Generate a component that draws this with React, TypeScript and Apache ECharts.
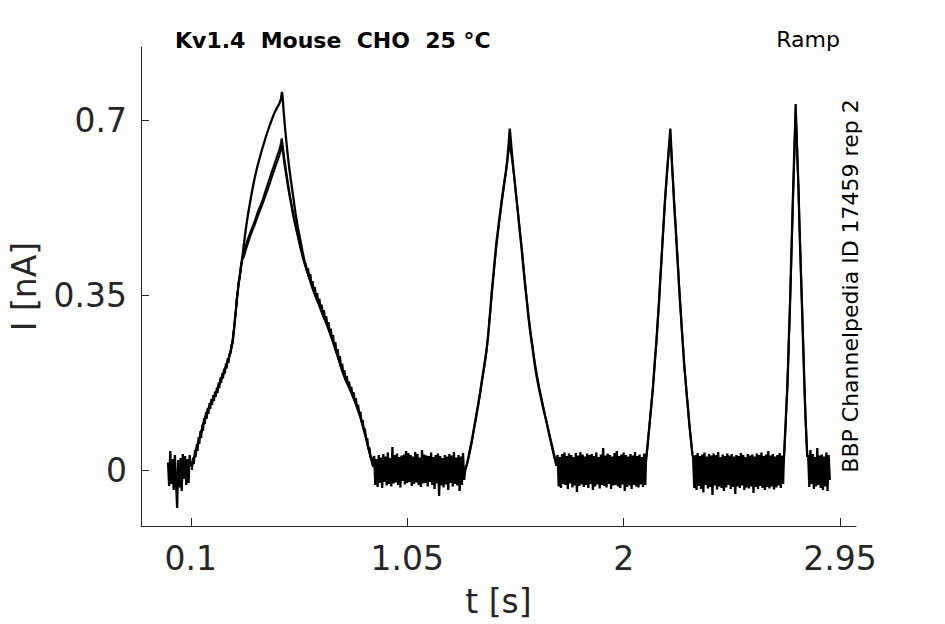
import React, { useEffect, useRef } from 'react';
import * as echarts from 'echarts';

// ---- axis ticks ----
const xTicks = [0.1, 1.05, 2, 2.95];
const yTicks = [0, 0.35, 0.7];

// ---- baseline noise samples (pA = 0.001 nA), sampled every 5 ms ----
const sampleDt = 0.005;
const base0Start = 0.0;
const base0 = [15, -32, 38, -28, 22, -40, 30, -22, -76, 20, -35, 24, -42, 32, -18, 28, -30, 22, -26, 30, 8];
const base1Start = 0.905;
const base1 = [
  28, -30, 22, -34, 30, -26, 25, -36, 32, -24,
  27, -31, 35, -28, 24, -33, 46, -27, 30, -25,
  33, -30, 26, -35, 29, -22, 31, -29, 38, -26,
  34, -24, 30, -32, 27, -28, 36, -25, 32, -30,
  25, -34, 40, -27, 31, -26, 29, -33, 28, -24,
  35, -30, 26, -38, 30, -27, 33, -52, 28, -31,
  24, -35, 30, -29, 27, -40, 32, -26, 29, -33,
  36, -28, 25, -31, 30, -42, 27, -30, 34, -20,
];
const base2Start = 1.71;
const base2 = [
  30, -33, 26, -36, 32, -28, 35, -30, 28, -38,
  33, -27, 30, -35, 26, -31, 34, -44, 29, -32,
  36, -29, 31, -34, 27, -30, 33, -36, 30, -28,
  32, -40, 28, -33, 35, -29, 26, -37, 31, -30,
  44, -32, 29, -35, 33, -28, 30, -38, 27, -31,
  34, -30, 38, -33, 28, -36, 31, -29, 35, -42,
  30, -34, 27, -31, 32, -38, 29, -30, 36, -33,
  28, -35, 31, -29, 26, -34, 33, -30,
];
const base3Start = 2.305;
const base3 = [
  26, -36, 30, -40, 34, -32, 28, -38, 31, -45,
  35, -30, 27, -37, 32, -34, 29, -50, 33, -31,
  30, -39, 36, -33, 26, -36, 31, -42, 28, -35,
  33, -30, 29, -38, 32, -34, 27, -48, 30, -33,
  28, -36, 34, -31, 30, -40, 26, -35, 32, -37,
  29, -33, 31, -46, 27, -34, 33, -38, 30, -32,
  35, -36, 28, -40, 31, -34, 38, -37, 29, -33,
  32, -39, 27, -35, 30, -31, 34, -36, 29, -28,
];
const base4Start = 2.81;
const base4 = [30, -34, 40, -28, 32, -38, 26, -33, 44, -30, 29, -36, 31, -40, 27, -33, 35, -42, 30, -20];

// ---- ramp responses [t (s), I (nA)] ----
const ramp1Rise = [
  [0.105, 0.010], [0.110, 0.018], [0.118, 0.030], [0.126, 0.044], [0.134, 0.058], [0.142, 0.070],
  [0.150, 0.083], [0.158, 0.097], [0.166, 0.108], [0.174, 0.118], [0.182, 0.128], [0.190, 0.136],
  [0.198, 0.143], [0.206, 0.150], [0.214, 0.158], [0.222, 0.168], [0.230, 0.178], [0.238, 0.187],
  [0.246, 0.196], [0.254, 0.207], [0.262, 0.218], [0.270, 0.228], [0.278, 0.244], [0.284, 0.258],
  [0.290, 0.283], [0.296, 0.310], [0.302, 0.340], [0.308, 0.365], [0.314, 0.385], [0.320, 0.405],
  [0.326, 0.425],
];
const ramp1RiseB = [
  [0.105, 0.000], [0.110, 0.025], [0.114, 0.012], [0.118, 0.040], [0.122, 0.026], [0.126, 0.052],
  [0.130, 0.038], [0.134, 0.066], [0.138, 0.052], [0.142, 0.078], [0.146, 0.064], [0.150, 0.091],
  [0.154, 0.078], [0.158, 0.104], [0.162, 0.092], [0.166, 0.116], [0.170, 0.102], [0.174, 0.124],
  [0.178, 0.112], [0.182, 0.134], [0.186, 0.122], [0.190, 0.142], [0.194, 0.130], [0.198, 0.150],
  [0.202, 0.138], [0.206, 0.157], [0.210, 0.146], [0.214, 0.165], [0.218, 0.154], [0.222, 0.175],
  [0.226, 0.164], [0.230, 0.185], [0.234, 0.174], [0.238, 0.194], [0.242, 0.183], [0.246, 0.203],
  [0.250, 0.193], [0.254, 0.213], [0.258, 0.203], [0.262, 0.224], [0.266, 0.214], [0.270, 0.234],
  [0.274, 0.232], [0.278, 0.250], [0.282, 0.252], [0.286, 0.270], [0.290, 0.282], [0.294, 0.305],
  [0.298, 0.318], [0.302, 0.345], [0.306, 0.355], [0.310, 0.378], [0.314, 0.383], [0.320, 0.408],
  [0.326, 0.420],
];
const ramp1PeakA = [
  [0.332, 0.447], [0.338, 0.470], [0.344, 0.490], [0.350, 0.508], [0.357, 0.527], [0.364, 0.545],
  [0.372, 0.565], [0.380, 0.583], [0.390, 0.603], [0.400, 0.620], [0.410, 0.637], [0.420, 0.652],
  [0.430, 0.667], [0.444, 0.686], [0.455, 0.700], [0.466, 0.713], [0.478, 0.724], [0.488, 0.732],
  [0.496, 0.742], [0.500, 0.756], [0.503, 0.748], [0.508, 0.715], [0.515, 0.678], [0.522, 0.645],
  [0.530, 0.612], [0.540, 0.577], [0.550, 0.545], [0.560, 0.512], [0.570, 0.485], [0.580, 0.462],
  [0.590, 0.438], [0.600, 0.416],
];
const ramp1PeakB = [
  [0.332, 0.432], [0.340, 0.447], [0.350, 0.462], [0.360, 0.474], [0.371, 0.487], [0.382, 0.500],
  [0.393, 0.515], [0.404, 0.527], [0.415, 0.540], [0.426, 0.556], [0.437, 0.571], [0.448, 0.586],
  [0.458, 0.600], [0.468, 0.613], [0.478, 0.627], [0.488, 0.640], [0.494, 0.650], [0.499, 0.663],
  [0.503, 0.652], [0.510, 0.625], [0.520, 0.593], [0.530, 0.563], [0.540, 0.537], [0.550, 0.512],
  [0.560, 0.490], [0.570, 0.470], [0.580, 0.450], [0.590, 0.432], [0.600, 0.414],
];
const ramp1PeakC = [
  [0.332, 0.425], [0.340, 0.438], [0.350, 0.452], [0.360, 0.466], [0.371, 0.479], [0.382, 0.492],
  [0.393, 0.506], [0.404, 0.519], [0.415, 0.532], [0.426, 0.546], [0.437, 0.560], [0.448, 0.575],
  [0.458, 0.589], [0.468, 0.602], [0.478, 0.615], [0.488, 0.628], [0.494, 0.638], [0.499, 0.650],
  [0.503, 0.640], [0.510, 0.615], [0.520, 0.586], [0.530, 0.557], [0.540, 0.532], [0.550, 0.507],
  [0.560, 0.486], [0.570, 0.466], [0.580, 0.446], [0.590, 0.428], [0.600, 0.411],
];
const ramp1FallA = [
  [0.610, 0.398], [0.620, 0.384], [0.630, 0.370], [0.640, 0.357], [0.650, 0.345], [0.660, 0.334],
  [0.670, 0.322], [0.680, 0.310], [0.690, 0.299], [0.700, 0.288], [0.710, 0.275], [0.720, 0.262],
  [0.730, 0.248], [0.740, 0.234], [0.750, 0.220], [0.760, 0.205], [0.770, 0.192], [0.780, 0.180],
  [0.790, 0.170], [0.800, 0.160], [0.810, 0.149], [0.820, 0.138], [0.830, 0.125], [0.840, 0.112],
  [0.850, 0.097], [0.860, 0.080], [0.870, 0.062], [0.880, 0.043], [0.890, 0.025], [0.900, 0.008],
];
const ramp1FallB = [
  [0.605, 0.412], [0.610, 0.398], [0.615, 0.404], [0.620, 0.385], [0.625, 0.392], [0.630, 0.372],
  [0.635, 0.378], [0.640, 0.358], [0.645, 0.366], [0.650, 0.346], [0.655, 0.354], [0.660, 0.334],
  [0.665, 0.343], [0.670, 0.322], [0.675, 0.331], [0.680, 0.311], [0.685, 0.320], [0.690, 0.300],
  [0.695, 0.308], [0.700, 0.288], [0.705, 0.296], [0.710, 0.276], [0.715, 0.283], [0.720, 0.262],
  [0.725, 0.270], [0.730, 0.248], [0.735, 0.256], [0.740, 0.234], [0.745, 0.242], [0.750, 0.220],
  [0.755, 0.228], [0.760, 0.205], [0.765, 0.213], [0.770, 0.192], [0.775, 0.200], [0.780, 0.180],
  [0.785, 0.188], [0.790, 0.170], [0.795, 0.177], [0.800, 0.159], [0.805, 0.167], [0.810, 0.148],
  [0.815, 0.156], [0.820, 0.137], [0.825, 0.144], [0.830, 0.124], [0.835, 0.131], [0.840, 0.110],
  [0.845, 0.117], [0.850, 0.095], [0.855, 0.100], [0.860, 0.078], [0.865, 0.083], [0.870, 0.060],
  [0.875, 0.064], [0.880, 0.041], [0.885, 0.045], [0.890, 0.023], [0.895, 0.026], [0.900, 0.006],
];
const ramp2A = [
  [1.305, 0.002], [1.311, 0.010], [1.318, 0.024], [1.325, 0.040], [1.333, 0.058], [1.340, 0.076],
  [1.348, 0.096], [1.355, 0.115], [1.362, 0.133], [1.370, 0.155], [1.377, 0.177], [1.384, 0.197],
  [1.392, 0.220], [1.399, 0.243], [1.405, 0.268], [1.410, 0.295], [1.416, 0.327], [1.421, 0.357],
  [1.427, 0.385], [1.432, 0.410], [1.437, 0.434], [1.442, 0.457], [1.448, 0.478], [1.453, 0.498],
  [1.459, 0.518], [1.464, 0.537], [1.469, 0.553], [1.474, 0.570], [1.479, 0.585], [1.483, 0.597],
  [1.488, 0.615], [1.492, 0.635], [1.496, 0.658], [1.500, 0.683], [1.503, 0.670], [1.507, 0.648],
  [1.511, 0.627], [1.516, 0.603], [1.522, 0.577], [1.529, 0.545], [1.537, 0.510], [1.544, 0.477],
  [1.552, 0.443], [1.559, 0.408], [1.566, 0.375], [1.574, 0.342], [1.581, 0.310], [1.590, 0.275],
  [1.600, 0.245], [1.608, 0.216], [1.617, 0.190], [1.628, 0.163], [1.640, 0.138], [1.650, 0.117],
  [1.661, 0.097], [1.673, 0.073], [1.685, 0.050], [1.695, 0.030], [1.705, 0.010],
];
const ramp2B = [
  [1.305, 0.000], [1.313, 0.012], [1.322, 0.030], [1.332, 0.052], [1.342, 0.078], [1.352, 0.104],
  [1.362, 0.130], [1.372, 0.158], [1.382, 0.188], [1.392, 0.218], [1.400, 0.246], [1.408, 0.282],
  [1.415, 0.318], [1.422, 0.354], [1.430, 0.394], [1.438, 0.432], [1.446, 0.466], [1.454, 0.496],
  [1.462, 0.525], [1.470, 0.552], [1.478, 0.578], [1.486, 0.604], [1.493, 0.630], [1.499, 0.657],
  [1.504, 0.640], [1.510, 0.622], [1.518, 0.592], [1.526, 0.558], [1.535, 0.520], [1.545, 0.478],
  [1.555, 0.434], [1.565, 0.386], [1.575, 0.340], [1.585, 0.300], [1.596, 0.260], [1.607, 0.224],
  [1.618, 0.193], [1.630, 0.164], [1.642, 0.138], [1.655, 0.110], [1.668, 0.082], [1.680, 0.056],
  [1.692, 0.032], [1.705, 0.008],
];
const ramp3A = [
  [2.098, 0.020], [2.105, 0.050], [2.113, 0.088], [2.120, 0.122], [2.128, 0.160], [2.133, 0.192],
  [2.138, 0.225], [2.144, 0.258], [2.149, 0.293], [2.155, 0.333], [2.160, 0.375], [2.166, 0.418],
  [2.171, 0.460], [2.176, 0.497], [2.180, 0.530], [2.185, 0.562], [2.190, 0.593], [2.195, 0.622],
  [2.198, 0.642], [2.202, 0.664], [2.205, 0.683], [2.209, 0.645], [2.213, 0.605], [2.218, 0.566],
  [2.222, 0.527], [2.228, 0.486], [2.233, 0.445], [2.239, 0.402], [2.244, 0.360], [2.250, 0.320],
  [2.255, 0.283], [2.261, 0.244], [2.266, 0.207], [2.272, 0.178], [2.277, 0.150], [2.283, 0.121],
  [2.288, 0.093], [2.295, 0.062], [2.302, 0.030],
];
const ramp3B = [
  [2.098, 0.015], [2.106, 0.052], [2.114, 0.092], [2.122, 0.132], [2.130, 0.174], [2.137, 0.214],
  [2.144, 0.256], [2.150, 0.300], [2.156, 0.342], [2.162, 0.390], [2.168, 0.436], [2.174, 0.480],
  [2.180, 0.524], [2.186, 0.566], [2.192, 0.604], [2.198, 0.640], [2.204, 0.668], [2.209, 0.640],
  [2.214, 0.598], [2.220, 0.552], [2.226, 0.508], [2.232, 0.462], [2.238, 0.414], [2.244, 0.366],
  [2.250, 0.322], [2.256, 0.280], [2.262, 0.240], [2.268, 0.202], [2.274, 0.168], [2.280, 0.136],
  [2.286, 0.104], [2.293, 0.070], [2.302, 0.032],
];
const ramp4A = [
  [2.703, 0.020], [2.707, 0.055], [2.711, 0.092], [2.714, 0.125], [2.718, 0.160], [2.722, 0.210],
  [2.725, 0.260], [2.729, 0.310], [2.732, 0.360], [2.735, 0.410], [2.738, 0.460], [2.741, 0.510],
  [2.744, 0.560], [2.747, 0.605], [2.750, 0.650], [2.753, 0.695], [2.755, 0.732], [2.758, 0.690],
  [2.761, 0.650], [2.764, 0.608], [2.768, 0.560], [2.771, 0.500], [2.775, 0.440], [2.779, 0.383],
  [2.783, 0.327], [2.786, 0.280], [2.790, 0.222], [2.794, 0.160], [2.797, 0.122], [2.800, 0.088],
  [2.803, 0.056], [2.806, 0.028],
];
const ramp4B = [
  [2.703, 0.015], [2.708, 0.062], [2.713, 0.110], [2.718, 0.158], [2.723, 0.228], [2.728, 0.296],
  [2.733, 0.372], [2.738, 0.452], [2.743, 0.534], [2.748, 0.610], [2.752, 0.668], [2.755, 0.718],
  [2.759, 0.672], [2.763, 0.620], [2.768, 0.552], [2.773, 0.476], [2.778, 0.400], [2.783, 0.330],
  [2.788, 0.256], [2.793, 0.182], [2.798, 0.112], [2.802, 0.068], [2.806, 0.026],
];

const titleText = 'Kv1.4\u00a0\u00a0Mouse\u00a0\u00a0CHO\u00a0\u00a025 °C';
const protocolText = 'Ramp';
const sideText = 'BBP Channelpedia ID 17459 rep 2';

const FONT = '"DejaVu Sans", sans-serif';
const AXIS_COLOR = '#262626';

function baseline(start: number, values: number[]) {
  return values.map((v, i) => [start + i * sampleDt, v / 1000]);
}

export default function App() {
  const ref = useRef<HTMLDivElement>(null);

  useEffect(() => {
    if (!ref.current) return;
    const chart = echarts.init(ref.current, null, { renderer: 'svg' });

    const rep1 = [
      ...baseline(base0Start, base0),
      ...ramp1Rise, ...ramp1PeakA, ...ramp1FallA,
      ...baseline(base1Start, base1),
      ...ramp2A,
      ...baseline(base2Start, base2),
      ...ramp3A,
      ...baseline(base3Start, base3),
      ...ramp4A,
      ...baseline(base4Start, base4),
    ];
    const segments: { d: number[][]; w: number }[] = [
      { d: rep1, w: 2.3 },
      { d: [...ramp1RiseB, ...ramp1PeakB, ...ramp1FallB], w: 2 },
      { d: [...ramp1Rise, ...ramp1PeakC, ...ramp1FallA], w: 2 },
      { d: ramp2B, w: 2 },
      { d: ramp3B, w: 2 },
      { d: ramp4B, w: 2 },
    ];

    const series = segments.map((s) => ({
      type: 'line',
      data: s.d,
      showSymbol: false,
      symbol: 'none',
      silent: true,
      lineStyle: { color: '#000', width: s.w },
      clip: true,
    }));

    const axisCommon = {
      type: 'value',
      splitLine: { show: false },
      axisLine: { show: true, onZero: false, lineStyle: { color: AXIS_COLOR, width: 1 } },
      nameTextStyle: { fontSize: 33, color: AXIS_COLOR, fontFamily: FONT },
    };

    chart.setOption({
      animation: false,
      backgroundColor: '#fff',
      grid: { left: 138, right: 89, top: 47, bottom: 98, containLabel: false },
      xAxis: {
        ...axisCommon,
        min: -0.1186,
        max: 3.02,
        name: 't [s]',
        nameLocation: 'middle',
        nameGap: 59,
        axisTick: { show: true, inside: true, length: 8, customValues: xTicks, lineStyle: { color: AXIS_COLOR } },
        axisLabel: { customValues: xTicks, fontSize: 33, color: AXIS_COLOR, fontFamily: FONT, margin: 16 },
      },
      yAxis: {
        ...axisCommon,
        min: -0.112,
        max: 0.846,
        name: 'I [nA]',
        nameLocation: 'middle',
        nameGap: 100,
        axisTick: { show: true, inside: true, length: 8, customValues: yTicks, lineStyle: { color: AXIS_COLOR } },
        axisLabel: { customValues: yTicks, fontSize: 33, color: AXIS_COLOR, fontFamily: FONT, margin: 14 },
      },
      graphic: [
        {
          type: 'text', x: 175, y: 40,
          style: { text: titleText, fontSize: 22, fontWeight: 'bold', fontFamily: FONT, fill: '#000', align: 'left', verticalAlign: 'middle' },
        },
        {
          type: 'text', x: 840, y: 39,
          style: { text: protocolText, fontSize: 22, fontFamily: FONT, fill: '#000', align: 'right', verticalAlign: 'middle' },
        },
        {
          type: 'text', x: 850, y: 286, rotation: Math.PI / 2,
          style: { text: sideText, fontSize: 22, fontFamily: FONT, fill: '#000', align: 'center', verticalAlign: 'middle' },
        },
      ],
      series,
    });

    return () => chart.dispose();
  }, []);

  return <div ref={ref} style={{ position: 'absolute', left: 0, top: 0, width: 945, height: 624 }} />;
}
